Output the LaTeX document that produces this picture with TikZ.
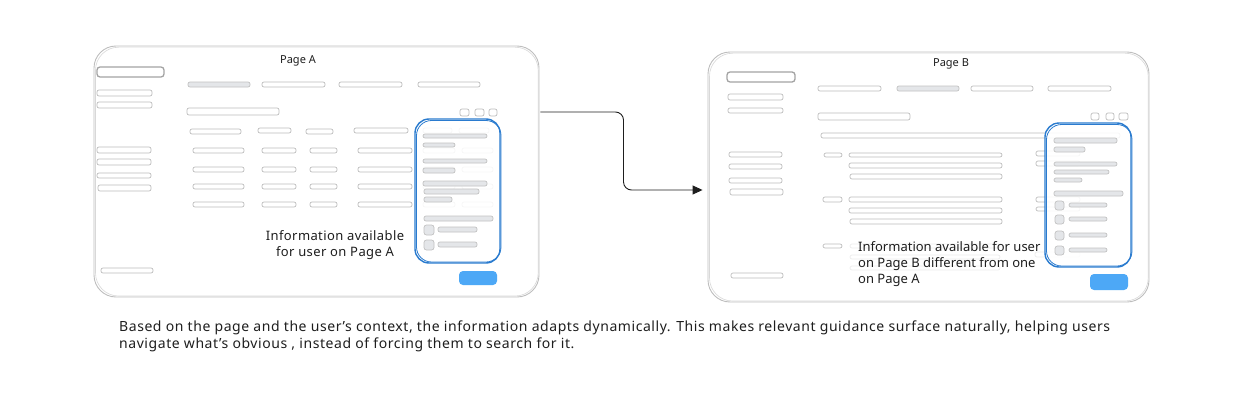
\documentclass[tikz,border=0pt]{standalone}
\usepackage{fontspec}
\setmainfont{Noto Sans}
\usetikzlibrary{arrows.meta,calc}
\definecolor{frameln}{HTML}{BEBEBE}
\definecolor{outl}{HTML}{BDBDBD}
\definecolor{faintln}{HTML}{ECECEC}
\definecolor{barfill}{HTML}{E4E6E9}
\definecolor{barline}{HTML}{C2C2C2}
\definecolor{topline}{HTML}{A3A3A3}
\definecolor{blueln}{HTML}{2A7BCF}
\definecolor{btnfill}{HTML}{4DA8F6}
\definecolor{ink}{HTML}{1E1E1E}
\newcommand{\wbx}[4]{\draw[wbar] (#1,#2) rectangle (#3,#4);}
\newcommand{\gbx}[4]{\draw[gbar] (#1,#2) rectangle (#3,#4);}
\newcommand{\fbx}[4]{\draw[fbar] (#1,#2) rectangle (#3,#4);}
\newcommand{\cbx}[4]{\draw[cbox] (#1,#2) rectangle (#3,#4);}
\begin{document}
\begin{tikzpicture}[x=1pt,y=-1pt,
  pageframe/.style={draw=frameln, line width=0.9pt, rounded corners=22pt, fill=white, inner sep=0pt},
  wbar/.style={draw=outl, line width=0.7pt, fill=white, rounded corners=2pt},
  gbar/.style={draw=barline, line width=0.7pt, fill=barfill, rounded corners=2pt},
  fbar/.style={draw=faintln, line width=0.7pt, rounded corners=2pt},
  cbox/.style={draw=barline, line width=0.7pt, fill=barfill, rounded corners=2.5pt},
  topbox/.style={draw=topline, line width=1.3pt, fill=white, rounded corners=3pt},
  panel/.style={draw=blueln, line width=1.4pt, rounded corners=14pt, fill=white, fill opacity=0.88, text opacity=1, inner sep=0pt},
  btn/.style={fill=btnfill, rounded corners=4pt, inner sep=0pt},
  lbl/.style={font=\fontsize{13}{16}\selectfont, text=ink, inner sep=0pt},
  lblA/.style={font=\fontsize{13}{16}\selectfont\addfontfeatures{LetterSpace=3}, text=ink, inner sep=0pt},
  capt/.style={font=\fontsize{14}{17}\selectfont\addfontfeatures{LetterSpace=4}, text=ink, inner sep=0pt},
  ttl/.style={font=\fontsize{11}{13}\selectfont, text=ink, inner sep=0pt},
  arr/.style={draw=ink, line width=0.9pt, -{Triangle[length=10pt,width=9pt]}, rounded corners=8pt}
]
\useasboundingbox (0,0) rectangle (1241,404);

% ================= PAGE A =================
\node[pageframe, minimum width=445pt, minimum height=251pt] (pageA) at (316.5,171.5) {};
\draw[frameln!60, line width=0.6pt, rounded corners=23pt] (95.5,47.2) rectangle (538.2,296);
\node[ttl] (titleA) at (298,61) {Page A};
% sidebar
\draw[topbox] (97,67) rectangle (164,77);
\wbx{97}{90}{152}{96}
\wbx{97}{102}{152}{108}
\wbx{97}{147}{151}{153}
\wbx{97}{159}{151}{165}
\wbx{97}{173}{151}{178}
\wbx{98}{185}{151}{191}
\wbx{101}{268}{153}{273}
% tabs
\gbx{188}{82}{250}{87}
\wbx{262}{82}{325}{87}
\wbx{339}{82}{402}{87}
\wbx{418}{82}{480}{87}
% search + icons
\wbx{187}{108}{279}{115}
\wbx{460}{109}{469}{116}
\wbx{475}{109}{484}{116}
\wbx{489}{109}{497}{116}
% table header
\wbx{190}{129}{241}{134}
\wbx{258}{128}{291}{133}
\wbx{306}{129}{333}{134}
\wbx{354}{128}{408}{133}
\wbx{423}{128}{452}{133}
\wbx{459}{128}{489}{133}
% table rows
\foreach \ya/\yb in {148/153,167/172,184/189,202/207}{
  \wbx{193}{\ya}{244}{\yb}
  \wbx{262}{\ya}{296}{\yb}
  \wbx{310}{\ya}{337}{\yb}
  \wbx{358}{\ya}{412}{\yb}
  \wbx{423}{\ya}{455}{\yb}
  \wbx{462}{\ya}{493}{\yb}
}
% blue panel A
\node[panel, minimum width=85pt, minimum height=144pt] (panelA) at (457.5,191) {};
\draw[blueln, line width=0.8pt, rounded corners=15pt] (416.5,120.5) rectangle (501,262);
\gbx{423}{134}{487}{138}
\gbx{423}{143}{455}{147}
\gbx{423}{159}{487}{163}
\gbx{423}{168}{455}{173}
\gbx{423}{181}{487}{186}
\gbx{424}{189}{479}{194}
\gbx{424}{197}{452}{202}
\gbx{424}{216}{493}{221}
\cbx{424}{225}{434}{235}
\gbx{438}{227}{477}{232}
\cbx{424}{240}{434}{250}
\gbx{438}{242}{477}{247}
\node[btn, minimum width=38pt, minimum height=14pt] (btnA) at (478,278) {};
% text A
\node[lblA, anchor=base] (tA1) at (335,240) {Information available};
\node[lblA, anchor=base] (tA2) at (335,256) {for user on Page A};

% ================= PAGE B =================
\node[pageframe, minimum width=441pt, minimum height=250pt] (pageB) at (928.5,177) {};
\draw[frameln!60, line width=0.6pt, rounded corners=23pt] (709.5,53.2) rectangle (1148.2,301);
\node[ttl] (titleB) at (951,64) {Page B};
% sidebar
\draw[topbox] (727,72) rectangle (795,82);
\wbx{728}{94}{783}{100}
\wbx{728}{108}{783}{113}
\wbx{729}{152}{782}{157}
\wbx{729}{164}{782}{169}
\wbx{729}{178}{782}{183}
\wbx{730}{189}{783}{195}
\wbx{731}{273}{783}{278}
% tabs
\wbx{818}{86}{881}{91}
\gbx{897}{86}{959}{91}
\wbx{971}{86}{1033}{91}
\wbx{1048}{86}{1111}{91}
% search + icons
\wbx{818}{113}{910}{120}
\wbx{1091}{113}{1099}{120}
\wbx{1106}{113}{1114}{120}
\wbx{1119}{113}{1128}{120}
% long bar
\wbx{821}{133}{1120}{138}
% group 1
\wbx{824}{153}{842}{157}
\wbx{849}{153}{1002}{157}
\wbx{849}{163}{1002}{168}
\wbx{850}{174}{1002}{179}
% group 2
\wbx{823}{197}{842}{202}
\wbx{849}{197}{1002}{202}
\wbx{849}{208}{1002}{213}
\wbx{850}{219}{1002}{224}
% group 3
\wbx{823}{244}{842}{248}
\fbx{850}{244}{1000}{248}
\fbx{850}{255}{1000}{259}
\fbx{850}{266}{1000}{270}
% right small items
\wbx{1036}{151}{1080}{156}
\wbx{1036}{161}{1080}{166}
\wbx{1036}{197}{1080}{202}
\wbx{1036}{207}{1080}{211}
\fbx{1035}{252}{1080}{257}
% blue panel B
\node[panel, minimum width=86pt, minimum height=144pt] (panelB) at (1088,195) {};
\draw[blueln, line width=0.8pt, rounded corners=15pt] (1046.5,124.5) rectangle (1132,266);
\gbx{1054}{138}{1117}{143}
\gbx{1054}{147}{1085}{152}
\gbx{1054}{162}{1117}{166}
\gbx{1054}{170}{1109}{174}
\gbx{1054}{178}{1082}{182}
\gbx{1054}{191}{1123}{196}
\foreach \ya in {201,215,231,246}{
  \cbx{1055}{\ya}{1064}{\ya+9}
  \gbx{1069}{\ya+2}{1107}{\ya+6}
}
\node[btn, minimum width=38pt, minimum height=16pt] (btnB) at (1109,282) {};
% text B
\node[lbl, anchor=base west] (tB1) at (858,251) {Information available for user};
\node[lbl, anchor=base west] (tB2) at (858,267) {on Page B different from one};
\node[lbl, anchor=base west] (tB3) at (858,283) {on Page A};

% ================= ARROW =================
\coordinate (aStart) at ([yshift=59.5pt]pageA.east);
\coordinate (bEnd) at ([yshift=-13pt]pageB.west);
\draw[arr, shorten >=5pt] ([xshift=1pt]aStart) -| ($(aStart)!0.5!(bEnd)$) |- (bEnd);

% ================= CAPTION =================
\node[capt, anchor=base west] (cap1) at (119,331) {Based on the page and the user’s context, the information adapts dynamically. This makes relevant guidance surface naturally, helping users};
\node[capt, anchor=base west] (cap2) at (119,348) {navigate what’s obvious , instead of forcing them to search for it.};
\end{tikzpicture}
\end{document}
